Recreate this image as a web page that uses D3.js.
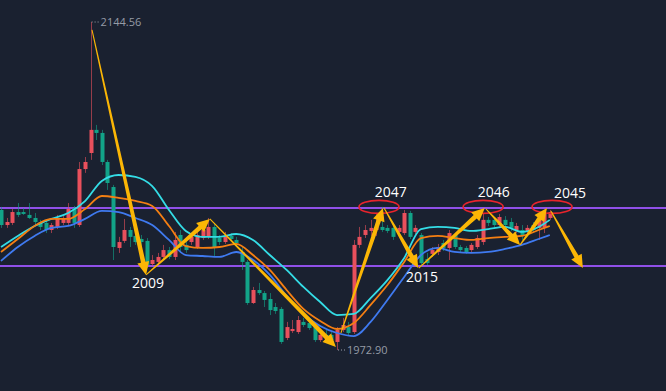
<!DOCTYPE html>
<html>
<head>
<meta charset="utf-8">
<script src="https://cdn.jsdelivr.net/npm/d3@7"></script>
<style>
html, body { margin: 0; background: #1a2130; }
svg { display: block; }
</style>
</head>
<body>
<svg id="chart" width="666" height="391"></svg>
<script>
//
// Data
//

// candles: [open, high, low, close], red = up, green = down
var candles = [
  [2046.2, 2047.8, 2036.8, 2038.3], [2038.3, 2042.0, 2036.8, 2039.9], [2039.4, 2046.7, 2038.3, 2045.1],
  [2045.1, 2049.8, 2042.5, 2043.6], [2045.1, 2047.2, 2043.6, 2044.1], [2043.6, 2049.8, 2041.5, 2042.0],
  [2042.0, 2044.6, 2038.3, 2039.9], [2039.9, 2041.0, 2035.7, 2037.3], [2039.4, 2040.4, 2034.1, 2035.7],
  [2035.7, 2039.4, 2034.1, 2038.3], [2037.3, 2043.6, 2036.2, 2042.0], [2039.4, 2043.0, 2038.3, 2042.0],
  [2039.4, 2049.8, 2037.8, 2046.7], [2047.2, 2048.3, 2036.8, 2039.4], [2038.3, 2071.3, 2037.3, 2067.6],
  [2067.6, 2073.9, 2065.6, 2071.3], [2076.0, 2144.56, 2072.4, 2088.1], [2088.1, 2090.7, 2082.8, 2086.5],
  [2086.5, 2088.1, 2069.7, 2071.3], [2071.3, 2072.4, 2056.7, 2060.3], [2058.2, 2059.3, 2020.0, 2026.8],
  [2026.3, 2032.1, 2023.7, 2029.4], [2030.0, 2041.5, 2028.9, 2035.7], [2035.7, 2037.3, 2026.8, 2032.1],
  [2032.6, 2034.7, 2027.9, 2029.4], [2031.0, 2033.1, 2027.3, 2029.4], [2030.0, 2031.5, 2015.8, 2017.4],
  [2017.9, 2022.6, 2016.9, 2020.0], [2019.0, 2023.7, 2017.9, 2021.6], [2021.6, 2027.9, 2020.0, 2025.2],
  [2025.2, 2026.8, 2020.5, 2021.6], [2021.6, 2034.7, 2020.0, 2030.5], [2033.1, 2035.7, 2024.2, 2026.8],
  [2027.9, 2030.5, 2023.7, 2025.2], [2029.4, 2034.1, 2027.9, 2032.1], [2026.8, 2034.7, 2025.8, 2033.1],
  [2031.5, 2037.8, 2030.5, 2035.7], [2032.1, 2042.0, 2031.0, 2037.3], [2037.3, 2039.4, 2021.6, 2026.8],
  [2031.5, 2033.1, 2027.9, 2029.4], [2029.4, 2034.7, 2028.4, 2032.6], [2032.6, 2034.1, 2030.0, 2031.0],
  [2030.5, 2032.1, 2027.3, 2028.9], [2024.2, 2026.8, 2014.8, 2019.0], [2019.0, 2020.0, 1996.5, 1997.5],
  [1997.5, 2005.9, 1997.0, 2004.3], [2004.3, 2008.0, 2001.7, 2002.7], [2002.7, 2003.8, 1995.4, 1999.1],
  [1999.6, 2002.7, 1991.2, 1993.8], [1995.4, 1997.5, 1991.8, 1993.3], [1994.4, 1995.4, 1976.1, 1977.1],
  [1979.2, 1987.6, 1978.1, 1984.9], [1982.8, 1988.6, 1981.8, 1983.9], [1982.3, 1990.7, 1981.3, 1988.6],
  [1987.6, 1989.7, 1984.9, 1986.0], [1987.0, 1988.6, 1983.4, 1984.4], [1984.9, 1986.5, 1977.1, 1978.1],
  [1978.1, 1982.3, 1977.1, 1980.8], [1980.8, 1983.4, 1978.1, 1979.2], [1980.8, 1982.3, 1977.1, 1978.1],
  [1977.1, 1984.9, 1972.90, 1983.4], [1983.4, 1989.7, 1982.3, 1986.0], [1984.9, 1987.6, 1980.2, 1981.8],
  [1982.3, 2030.5, 1981.3, 2027.9], [2027.9, 2037.3, 2026.3, 2032.1], [2033.1, 2038.3, 2031.5, 2035.7],
  [2035.2, 2041.0, 2032.6, 2036.8], [2035.7, 2044.6, 2032.6, 2037.3], [2037.3, 2047.8, 2034.7, 2035.7],
  [2036.8, 2038.3, 2034.1, 2035.2], [2036.8, 2037.8, 2030.5, 2032.1], [2034.7, 2038.3, 2033.1, 2036.8],
  [2034.1, 2046.2, 2033.1, 2044.6], [2044.6, 2045.7, 2031.0, 2032.1], [2034.7, 2038.3, 2033.6, 2036.8],
  [2033.1, 2034.1, 2016.4, 2018.4], [2020.5, 2023.7, 2017.4, 2018.4], [2023.2, 2026.8, 2021.6, 2025.2],
  [2024.2, 2028.4, 2022.6, 2026.8], [2028.9, 2030.5, 2024.7, 2026.3], [2026.3, 2035.7, 2020.0, 2034.1],
  [2033.1, 2034.1, 2025.8, 2026.8], [2026.8, 2027.9, 2023.7, 2025.2], [2026.3, 2027.3, 2023.2, 2024.2],
  [2025.2, 2028.9, 2023.7, 2027.9], [2026.8, 2033.1, 2025.8, 2031.5], [2029.4, 2044.6, 2027.9, 2041.0],
  [2041.0, 2042.5, 2037.8, 2039.4], [2041.0, 2042.5, 2036.8, 2038.3], [2038.3, 2044.1, 2037.3, 2042.5],
  [2041.0, 2043.0, 2036.8, 2038.3], [2039.9, 2042.0, 2035.2, 2036.8], [2035.7, 2039.4, 2034.1, 2037.8],
  [2035.7, 2038.3, 2030.5, 2033.1], [2034.7, 2038.3, 2032.6, 2036.8], [2038.3, 2039.9, 2034.1, 2035.7],
  [2036.8, 2043.6, 2030.5, 2041.0], [2036.8, 2046.2, 2034.1, 2044.6], [2042.0, 2046.2, 2041.0, 2045.1]
]

// moving average lines, read every third candle
var maIdx = [0, 3, 6, 9, 12, 15, 18, 21, 24, 27, 30, 33, 36, 39, 42, 45, 48,
  51, 54, 57, 60, 63, 66, 69, 72, 75, 78, 81, 84, 87, 90, 93, 96, 98]
var maCyan = [2026.8, 2032.6, 2037.8, 2041.5, 2044.6, 2050.8, 2061.4, 2064.5, 2063.5, 2058.7,
  2046.2, 2035.2, 2032.1, 2032.1, 2033.6, 2030.5, 2022.6, 2014.8, 2005.9, 1998.0, 1991.2,
  1991.8, 2000.1, 2009.5, 2021.1, 2036.2, 2037.3, 2036.8, 2035.2, 2036.2, 2037.3, 2034.7, 2037.3, 2041.0]
var maOrange = [2024.2, 2031.0, 2037.8, 2041.5, 2041.5, 2046.7, 2053.5, 2052.5, 2050.9, 2048.3,
  2037.8, 2027.3, 2026.3, 2026.8, 2028.4, 2022.6, 2014.8, 2004.3, 1994.4, 1988.1, 1983.9,
  1987.0, 1996.5, 2006.9, 2019.0, 2031.5, 2032.6, 2031.5, 2030.5, 2031.5, 2032.1, 2032.6, 2035.7, 2037.8]
var maBlue = [2019.5, 2026.8, 2032.6, 2036.8, 2037.8, 2041.5, 2045.7, 2045.1, 2042.0, 2038.3,
  2030.5, 2022.6, 2022.1, 2021.6, 2024.2, 2020.0, 2012.2, 2001.2, 1991.8, 1985.5, 1981.8,
  1980.2, 1987.6, 1999.1, 2011.1, 2022.6, 2026.3, 2024.2, 2023.7, 2024.2, 2025.8, 2027.9, 2031.0, 2033.1]

// horizontal range lines
var levels = [2047.2, 2016.9]

// arrows: [[fromIndex, fromPrice], [toIndex, toPrice]]
var arrows = [
  [[16.25, 2140.4], [25.9, 2012.2]],
  [[25.9, 2012.2], [37.3, 2041.5]],
  [[37.3, 2041.5], [59.8, 1974.5]],
  [[60.7, 1981.8], [68.2, 2047.2]],
  [[68.4, 2047.2], [74.5, 2015.8]],
  [[74.6, 2015.8], [86.4, 2047.2]],
  [[86.6, 2046.7], [92.7, 2027.9]],
  [[92.7, 2027.9], [97.5, 2047.2]],
  [[98.2, 2045.7], [103.9, 2015.8]]
]

// red rings round the tops
var rings = [[67.5, 2047.8], [86.1, 2047.8], [98.4, 2047.8]]

// white labels: [text, index, price]
var labels = [
  ['2047', 69.6, 2053.0], ['2046', 88.0, 2053.0], ['2045', 101.6, 2052.5],
  ['2015', 75.2, 2008.5], ['2009', 26.25, 2005.4]
]

// extreme marks
var highIdx = 16, highVal = 2144.56
var lowIdx = 60, lowVal = 1972.90

//
// Setup
//

var colorUp = '#e9505c'
var colorDown = '#12a388'
var colorArrow = '#fbb605'

var svg = d3.select('#chart')
var x = d3.scaleLinear().domain([0, 98]).range([1, 549.8])
var y = d3.scaleLinear().domain([lowVal, highVal]).range([350, 22])

svg.append('rect').attr('width', 666).attr('height', 391).attr('fill', '#1a2130')

// range lines
svg.selectAll('.level').data(levels).enter().append('line')
  .attr('x1', 0).attr('x2', 666)
  .attr('y1', d => y(d)).attr('y2', d => y(d))
  .attr('stroke', '#9050e8').attr('stroke-width', 2)

// candles
var g = svg.append('g')
candles.forEach(function(d, i) {
  var up = d[3] >= d[0]
  var col = up ? colorUp : colorDown
  var cx = Math.round(x(i)) + 0.5
  g.append('line')
    .attr('x1', cx).attr('x2', cx)
    .attr('y1', y(d[1])).attr('y2', y(d[2]))
    .attr('stroke', col).attr('stroke-opacity', 0.6)
  var top = y(Math.max(d[0], d[3])), bot = y(Math.min(d[0], d[3]))
  g.append('rect')
    .attr('x', cx - 2).attr('width', 4)
    .attr('y', top).attr('height', Math.max(1, bot - top))
    .attr('fill', col)
})

// moving averages
function drawLine(vals, color) {
  var line = d3.line()
    .x((d, k) => x(maIdx[k]))
    .y(d => y(d))
    .curve(d3.curveMonotoneX)
  svg.append('path').datum(vals)
    .attr('d', line)
    .attr('fill', 'none')
    .attr('stroke', color)
    .attr('stroke-width', 1.8)
}
drawLine(maCyan, '#34dde6')
drawLine(maOrange, '#f57f12')
drawLine(maBlue, '#3f7af0')

// extreme labels with dotted leaders
function extreme(idx, val, txt) {
  var px = x(idx), py = y(val)
  svg.append('line')
    .attr('x1', px + 1).attr('x2', px + 9)
    .attr('y1', py).attr('y2', py)
    .attr('stroke', '#9aa0ab').attr('stroke-dasharray', '1,2')
  svg.append('text')
    .attr('x', px + 10).attr('y', py + 4)
    .attr('fill', '#959ba6')
    .attr('font-family', 'Open Sans, sans-serif')
    .attr('font-size', 11)
    .text(txt)
}
extreme(highIdx, highVal, highVal.toFixed(2))
extreme(lowIdx, lowVal, lowVal.toFixed(2))

// red rings
svg.selectAll('.ring').data(rings).enter().append('ellipse')
  .attr('cx', d => x(d[0])).attr('cy', d => y(d[1]))
  .attr('rx', 20).attr('ry', 6.5)
  .attr('fill', 'none').attr('stroke', '#e8242c').attr('stroke-width', 1.6)

// arrows, tapered shaft plus head
arrows.forEach(function(a) {
  var x0 = x(a[0][0]), y0 = y(a[0][1]), x1 = x(a[1][0]), y1 = y(a[1][1])
  var dx = x1 - x0, dy = y1 - y0, len = Math.sqrt(dx * dx + dy * dy)
  var ux = dx / len, uy = dy / len, nx = -uy, ny = ux
  var hl = 13, hw = 6
  var bx = x1 - ux * hl, by = y1 - uy * hl
  var pts = [
    [x0 + nx * 0.5, y0 + ny * 0.5],
    [bx + nx * 2.3, by + ny * 2.3],
    [bx + nx * hw, by + ny * hw],
    [x1, y1],
    [bx - nx * hw, by - ny * hw],
    [bx - nx * 2.3, by - ny * 2.3],
    [x0 - nx * 0.5, y0 - ny * 0.5]
  ]
  svg.append('polygon')
    .attr('points', pts.map(p => p.join(',')).join(' '))
    .attr('fill', colorArrow)
})

// labels
svg.selectAll('.lab').data(labels).enter().append('text')
  .attr('x', d => x(d[1])).attr('y', d => y(d[2]))
  .attr('text-anchor', 'middle')
  .attr('fill', '#ffffff')
  .attr('font-family', 'Open Sans, sans-serif')
  .attr('font-size', 14)
  .text(d => d[0])
</script>
</body>
</html>
